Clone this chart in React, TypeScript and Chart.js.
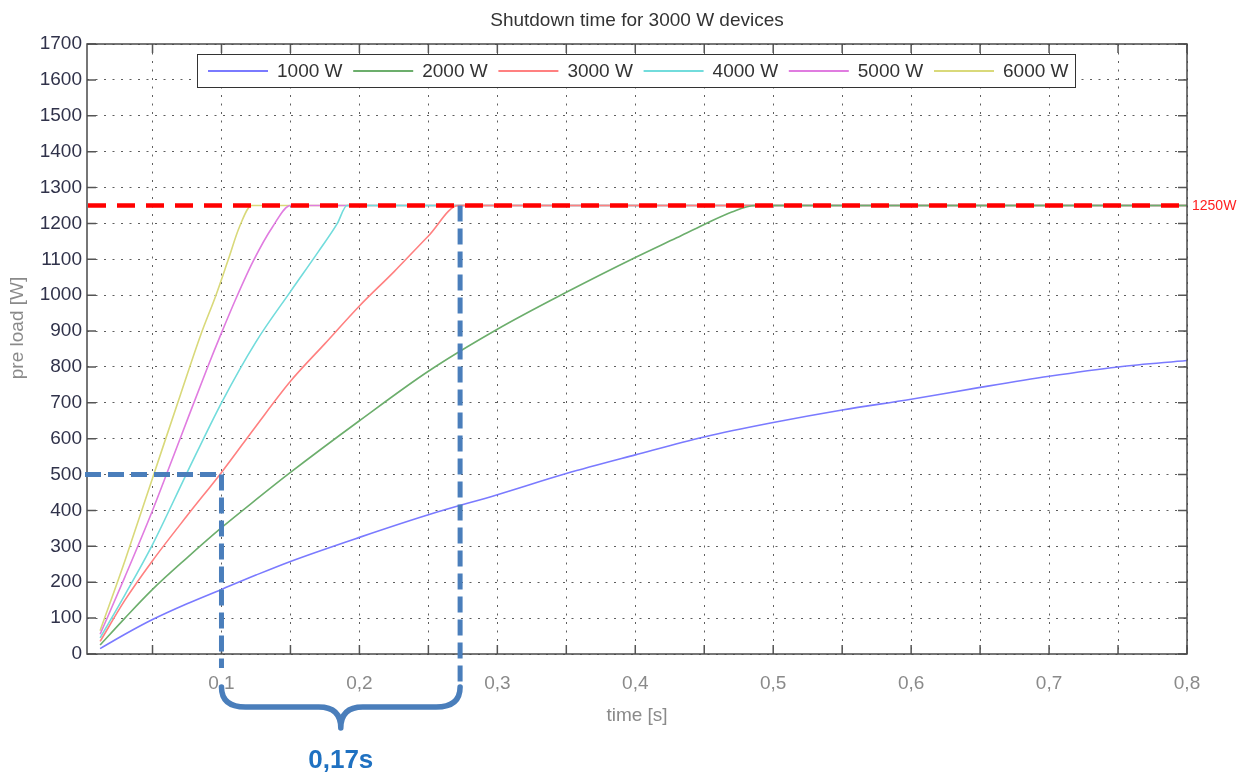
import React, { useEffect, useRef } from 'react';
import { Chart, registerables } from 'chart.js';

Chart.register(...registerables);

const chartTitle = 'Shutdown time for 3000 W devices';
const xTitle = 'time [s]';
const yTitle = 'pre load [W]';

const seriesLabels = ['1000 W', '2000 W', '3000 W', '4000 W', '5000 W', '6000 W'];
const seriesColors = ['#7a7aff', '#6cae6c', '#ff8080', '#72dcdc', '#e07ce0', '#d9d97a'];

const t1000 = [0.012, 0.03, 0.05, 0.075, 0.1, 0.125, 0.15, 0.2, 0.25, 0.3, 0.35, 0.4, 0.45, 0.5, 0.55, 0.6, 0.65, 0.7, 0.75, 0.8];
const p1000 = [15, 55, 96, 140, 180, 220, 258, 325, 388, 444, 503, 555, 605, 645, 680, 710, 743, 774, 800, 818];

const t2000 = [0.012, 0.03, 0.05, 0.075, 0.1, 0.125, 0.15, 0.2, 0.25, 0.3, 0.35, 0.4, 0.43, 0.45, 0.47, 0.487, 0.8];
const p2000 = [25, 100, 180, 268, 352, 430, 506, 650, 788, 905, 1008, 1105, 1160, 1197, 1232, 1250, 1250];

const t3000 = [0.012, 0.03, 0.05, 0.075, 0.1, 0.125, 0.15, 0.175, 0.2, 0.225, 0.25, 0.272, 0.8];
const p3000 = [35, 150, 260, 385, 506, 635, 760, 865, 970, 1065, 1165, 1250, 1250];

const t4000 = [0.012, 0.03, 0.05, 0.075, 0.1, 0.125, 0.15, 0.17, 0.184, 0.191, 0.8];
const p4000 = [45, 165, 305, 505, 700, 870, 1010, 1120, 1200, 1250, 1250];

const t5000 = [0.012, 0.03, 0.05, 0.07, 0.09, 0.1, 0.111, 0.123, 0.137, 0.15, 0.8];
const p5000 = [55, 215, 400, 600, 800, 895, 995, 1095, 1190, 1250, 1250];

const t6000 = [0.012, 0.03, 0.05, 0.07, 0.085, 0.096, 0.105, 0.113, 0.122, 0.8];
const p6000 = [65, 260, 490, 720, 890, 1000, 1100, 1190, 1250, 1250];

const seriesTimes = [t1000, t2000, t3000, t4000, t5000, t6000];
const seriesValues = [p1000, p2000, p3000, p4000, p5000, p6000];

const xMin = 0.0025;
const xMax = 0.8;
const xGridTicks = [0.05, 0.1, 0.15, 0.2, 0.25, 0.3, 0.35, 0.4, 0.45, 0.5, 0.55, 0.6, 0.65, 0.7, 0.75, 0.8];
const yMin = 0;
const yMax = 1700;
const yTickValues = [0, 100, 200, 300, 400, 500, 600, 700, 800, 900, 1000, 1100, 1200, 1300, 1400, 1500, 1600, 1700];

const limitValue = 1250;
const limitLabel = '1250W';
const markStartT = 0.1;
const markStartP = 500;
const markEndT = 0.273;
const markEndP = 1250;
const braceLabel = '0,17s';

const FONT = '"Liberation Sans", Arial, sans-serif';
const MARK_BLUE = '#4a7ebb';

const decorPlugin = {
  id: 'decor',
  afterDraw(chart: any) {
    const { ctx, chartArea: a, scales } = chart;
    const xs = scales.x;
    const ys = scales.y;
    ctx.save();

    // inward tick marks
    ctx.strokeStyle = '#555';
    ctx.lineWidth = 1.5;
    ctx.setLineDash([]);
    ctx.beginPath();
    for (const v of yTickValues) {
      const y = ys.getPixelForValue(v);
      ctx.moveTo(a.left, y);
      ctx.lineTo(a.left + 9, y);
      ctx.moveTo(a.right, y);
      ctx.lineTo(a.right - 9, y);
    }
    for (const v of xGridTicks) {
      const x = xs.getPixelForValue(v);
      ctx.moveTo(x, a.bottom);
      ctx.lineTo(x, a.bottom - 9);
      ctx.moveTo(x, a.top);
      ctx.lineTo(x, a.top + 9);
    }
    ctx.stroke();

    // frame
    ctx.strokeStyle = '#4a4a4a';
    ctx.lineWidth = 1.5;
    ctx.strokeRect(a.left, a.top, a.right - a.left, a.bottom - a.top);

    // title & axis titles
    ctx.fillStyle = '#333';
    ctx.font = `19px ${FONT}`;
    ctx.textAlign = 'center';
    ctx.textBaseline = 'middle';
    ctx.fillText(chartTitle, (a.left + a.right) / 2, 21);
    ctx.fillStyle = '#8a8a8a';
    ctx.fillText(xTitle, (a.left + a.right) / 2, 716);
    ctx.save();
    ctx.translate(18, 328);
    ctx.rotate(-Math.PI / 2);
    ctx.fillText(yTitle, 0, 0);
    ctx.restore();

    // legend
    const lx = 197.5, ly = 54.5, lw = 878, lh = 33;
    ctx.fillStyle = '#fff';
    ctx.fillRect(lx, ly, lw, lh);
    ctx.strokeStyle = '#333';
    ctx.lineWidth = 1;
    ctx.strokeRect(lx, ly, lw, lh);
    ctx.font = `19px ${FONT}`;
    ctx.textAlign = 'left';
    ctx.textBaseline = 'middle';
    chart.data.datasets.forEach((ds: any, i: number) => {
      const x0 = 208 + i * 145.2;
      ctx.strokeStyle = ds.borderColor;
      ctx.lineWidth = 2;
      ctx.beginPath();
      ctx.moveTo(x0, 71);
      ctx.lineTo(x0 + 60, 71);
      ctx.stroke();
      ctx.fillStyle = '#333';
      ctx.fillText(ds.label, x0 + 69, 71.5);
    });

    // red limit line
    const yl = ys.getPixelForValue(limitValue);
    ctx.strokeStyle = '#ff0000';
    ctx.lineWidth = 4.5;
    ctx.setLineDash([18, 11]);
    ctx.beginPath();
    ctx.moveTo(a.left + 1, yl);
    ctx.lineTo(a.right - 1, yl);
    ctx.stroke();
    ctx.setLineDash([]);
    ctx.fillStyle = '#ff2020';
    ctx.font = `14px ${FONT}`;
    ctx.textAlign = 'left';
    ctx.textBaseline = 'middle';
    ctx.fillText(limitLabel, a.right + 5, yl + 1);

    // blue marker lines
    const x1 = xs.getPixelForValue(markStartT);
    const y1 = ys.getPixelForValue(markStartP);
    const x2 = xs.getPixelForValue(markEndT);
    const y2 = ys.getPixelForValue(markEndP);
    ctx.strokeStyle = MARK_BLUE;
    ctx.lineWidth = 5;
    ctx.setLineDash([16, 7]);
    ctx.beginPath();
    ctx.moveTo(a.left - 2, y1);
    ctx.lineTo(x1 + 2, y1);
    ctx.stroke();
    ctx.beginPath();
    ctx.moveTo(x1, y1);
    ctx.lineTo(x1, 668);
    ctx.stroke();
    ctx.beginPath();
    ctx.moveTo(x2, y2);
    ctx.lineTo(x2, 684);
    ctx.stroke();
    ctx.setLineDash([]);

    // brace
    const xm = (x1 + x2) / 2;
    const yTop = 687, yMid = 707, yTip = 728;
    ctx.lineWidth = 5.5;
    ctx.lineCap = 'round';
    ctx.lineJoin = 'round';
    ctx.beginPath();
    ctx.moveTo(x1, yTop);
    ctx.quadraticCurveTo(x1, yMid, x1 + 24, yMid);
    ctx.lineTo(xm - 22, yMid);
    ctx.quadraticCurveTo(xm, yMid, xm, yTip);
    ctx.quadraticCurveTo(xm, yMid, xm + 22, yMid);
    ctx.lineTo(x2 - 24, yMid);
    ctx.quadraticCurveTo(x2, yMid, x2, yTop);
    ctx.stroke();

    ctx.fillStyle = '#1f71c1';
    ctx.font = `bold 26px ${FONT}`;
    ctx.textAlign = 'center';
    ctx.textBaseline = 'alphabetic';
    ctx.fillText(braceLabel, xm, 768);

    ctx.restore();
  },
};

export default function App() {
  const canvasRef = useRef<HTMLCanvasElement | null>(null);

  useEffect(() => {
    const canvas = canvasRef.current;
    if (!canvas) return;
    const datasets = seriesLabels.map((label, i) => ({
      label,
      data: seriesTimes[i].map((t, j) => ({ x: t, y: seriesValues[i][j] })),
      borderColor: seriesColors[i],
      backgroundColor: seriesColors[i],
      borderWidth: 1.6,
      pointRadius: 0,
      fill: false,
      cubicInterpolationMode: 'monotone' as const,
    }));

    const chart = new Chart(canvas, {
      type: 'line',
      data: { datasets },
      options: {
        animation: false,
        responsive: false,
        maintainAspectRatio: false,
        layout: { padding: { top: 44, right: 62, left: 0, bottom: 0 } },
        plugins: {
          legend: { display: false },
          title: { display: false },
          tooltip: { enabled: false },
        },
        scales: {
          x: {
            type: 'linear',
            min: xMin,
            max: xMax,
            afterBuildTicks: (s: any) => {
              s.ticks = xGridTicks.map((v) => ({ value: v }));
            },
            afterFit: (s: any) => {
              s.height = 118;
            },
            grid: { color: 'rgba(40,40,40,0.75)', lineWidth: 1, drawTicks: false },
            border: { display: false, dash: [2, 6.5] },
            ticks: {
              padding: 18,
              color: '#8a8a8a',
              font: { family: FONT, size: 19 },
              maxRotation: 0,
              autoSkip: false,
              callback: (v: any) => {
                const n = Number(v);
                return Math.abs(n * 10 - Math.round(n * 10)) < 1e-6 ? n.toFixed(1).replace('.', ',') : '';
              },
            },
          },
          y: {
            type: 'linear',
            min: yMin,
            max: yMax,
            afterBuildTicks: (s: any) => {
              s.ticks = yTickValues.map((v) => ({ value: v }));
            },
            afterFit: (s: any) => {
              s.width = 87;
            },
            grid: { color: 'rgba(40,40,40,0.75)', lineWidth: 1, drawTicks: false },
            border: { display: false, dash: [2, 6.5] },
            ticks: {
              padding: 5,
              color: '#30324a',
              font: { family: FONT, size: 19 },
              autoSkip: false,
              callback: (v: any) => String(v),
            },
          },
        },
      },
      plugins: [decorPlugin],
    });
    return () => chart.destroy();
  }, []);

  return (
    <div style={{ position: 'absolute', left: 0, top: 0, width: 1249, height: 772, background: '#fff' }}>
      <canvas ref={canvasRef} width={1249} height={772} />
    </div>
  );
}
